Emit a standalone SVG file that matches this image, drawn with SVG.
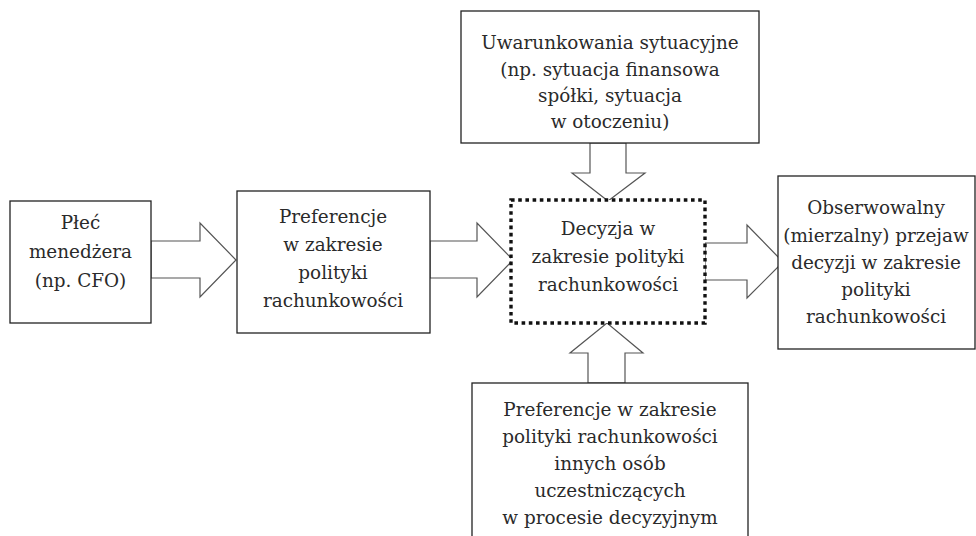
<svg xmlns="http://www.w3.org/2000/svg" width="976" height="536" viewBox="0 0 976 536">
<style>
.box{fill:#fff;stroke:#222;stroke-width:1.3}
.dot{fill:#fff;stroke:#111;stroke-width:3.4;stroke-dasharray:3.6 3.6}
.arr{fill:#fff;stroke:#555;stroke-width:1.2;stroke-linejoin:miter}
text{font-family:"DejaVu Serif","Liberation Serif",serif;font-size:18.4px;fill:#2a2a2a;text-anchor:middle}
</style>
<rect width="976" height="536" fill="#fff"/>
<g id="connectors">
<polygon class="arr" points="151,241 200,241 200,223 236,260 200,297 200,278 151,278"/>
<polygon class="arr" points="430,241 477,241 477,223 513,260 477,297 477,278 430,278"/>
<polygon class="arr" points="705,243 747,243 747,225 783,262 747,298 747,280 705,280"/>
<polygon class="arr" points="590,143 626,143 626,173 645,173 608,201 572,173 590,173"/>
<polygon class="arr" points="588,383 625,383 625,353 643,353 607,323 570,353 588,353"/>
</g>
<g id="n1">
<rect class="box" x="10" y="201" width="141" height="122"/>
<text x="80.5" y="229">Płeć</text>
<text x="80.5" y="258">menedżera</text>
<text x="80.5" y="287">(np. CFO)</text>
</g>
<g id="n2">
<rect class="box" x="237" y="191" width="193" height="142"/>
<text x="333" y="223">Preferencje</text>
<text x="333" y="251">w zakresie</text>
<text x="333" y="279">polityki</text>
<text x="333" y="307">rachunkowości</text>
</g>
<g id="n3">
<rect class="box" x="461" y="11" width="298" height="132"/>
<text x="610" y="49">Uwarunkowania sytuacyjne</text>
<text x="610" y="76">(np. sytuacja finansowa</text>
<text x="610" y="102">spółki, sytuacja</text>
<text x="610" y="128">w otoczeniu)</text>
</g>
<g id="n4">
<rect class="dot" x="511" y="200" width="194" height="123"/>
<text x="608" y="235">Decyzja w</text>
<text x="608" y="263">zakresie polityki</text>
<text x="608" y="291">rachunkowości</text>
</g>
<g id="n5">
<rect class="box" x="778" y="176" width="197" height="173"/>
<text x="876" y="214">Obserwowalny</text>
<text x="876" y="242">(mierzalny) przejaw</text>
<text x="876" y="269">decyzji w zakresie</text>
<text x="876" y="296">polityki</text>
<text x="876" y="323">rachunkowości</text>
</g>
<g id="n6">
<rect class="box" x="472" y="383" width="276" height="160"/>
<text x="610" y="416">Preferencje w zakresie</text>
<text x="610" y="443">polityki rachunkowości</text>
<text x="610" y="470">innych osób</text>
<text x="610" y="497">uczestniczących</text>
<text x="610" y="524">w procesie decyzyjnym</text>
</g>
</svg>
